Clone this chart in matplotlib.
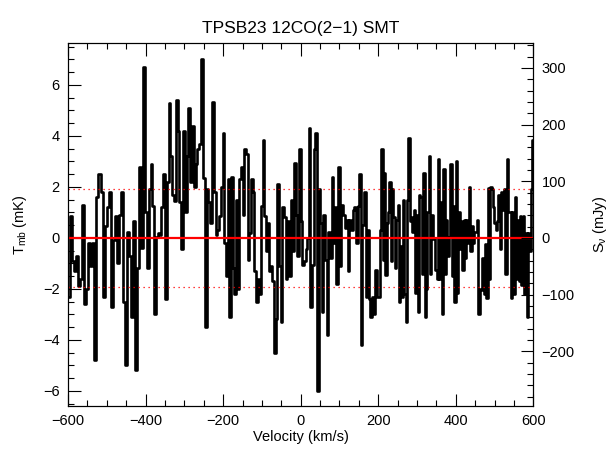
import numpy as np
import matplotlib
matplotlib.use("Agg")
from matplotlib import pyplot as plt
from matplotlib.ticker import MultipleLocator

plt.rcParams["font.family"] = ["Liberation Sans", "DejaVu Sans"]
plt.rcParams["mathtext.default"] = "regular"

# spectrum, in pieces of ~200 km/s each
seg_edges = [-600, -401, -201, 0, 201, 403, 600]
seg1 = [-2.3, 0.85, -0.9, -1.3, -0.7, -1.9, -1.6, 1.3, -2.6, -2.0, -0.2, -1.1, -0.2, -4.8, 1.6,
        2.5, 1.8, -2.3, 0.45, 1.2, 1.8, -2.7, -0.1, 0.85, -1.0, 0.9, 1.8, -2.5, -5.0, 0.25,
        -0.7, -3.1, 0.65, -5.2, -1.2, 2.8, -0.4, 6.7]
seg2 = [1.0, -1.2, 1.9, 2.9, 1.25, -3.0, 0.05, 0.2, 0.1, 1.2, 2.5, -2.4, 2.2, 5.3, 3.2,
        1.7, 1.45, 5.4, 4.2, 1.4, -0.45, 4.2, 1.0, 3.2, 5.1, 2.2, 4.4, 2.0, 2.9, 3.5,
        3.7, 7.0, 2.35, -3.5, 1.9, 1.4, 0.6, 5.35, 1.8, 0.1, 0.3, 0.85, 2.0]
seg3 = [4.1, -0.2, -1.5, 2.3, -3.1, 2.4, -1.2, -2.2, 1.5, -2.0, 2.3, 2.8, 0.9, 3.5, 3.3,
        -0.85, 0.2, 2.3, 1.8, -1.3, -2.5, -1.6, -2.2, 1.25, 3.85, 0.85, -0.5, 0.6, -1.3, -1.1,
        -1.7, -4.5, -3.2, 2.1, -1.1, -3.3, 1.2, 0.8, -1.6, 0.65, -1.5, 1.5, -0.5, 2.95, 0.9,
        -0.7, 3.5]
seg4 = [0.65, -1.05, -0.9, -0.45, 0.0, 4.3, -2.7, -1.05, 3.5, 4.1, -6.0, 1.9, 0.6, -2.9, 0.9,
        -0.85, -3.8, 0.25, -0.8, 2.4, -0.2, 1.2, -1.8, 2.8, -1.1, 1.3, 0.9, 0.4, 0.7, -1.3,
        0.7, 0.3, 1.1, 1.2, -0.2, 1.25, 2.5, -4.2, 0.5, 1.8, -2.3, 0.3, -2.4, -3.1, -2.3,
        -3.0, -1.25, -2.3]
seg5 = [-2.3, 0.3, 3.5, -0.85, 2.55, -1.45, 0.6, 1.0, 2.2, -0.9, 1.9, 0.8, -1.2, 0.7, 1.3,
        -2.5, -0.3, -2.3, 1.5, -2.2, -3.3, 1.5, 3.9, 0.65, 0.8, 0.25, 1.1, -2.15, 0.9, -2.9,
        1.7, 1.6, -1.4, 2.55, -3.1, -2.0, 1.0, 3.2, -1.4, 0.9, -0.05, 0.0, -1.25, -1.6, 3.1,
        -1.6, 1.4, -3.0, 2.7, -1.4, 0.7, -0.7, 0.05, 2.9, -1.5, 1.25, -2.5, 3.0]
seg6 = [-2.15, 1.0, -0.45, 0.65, -1.25, 0.7, -0.8, 0.7, -0.2, 2.0, -0.5, 0.45, -0.2, 0.25, 0.25,
        0.7, -3.0, -2.0, -2.05, -0.8, -2.2, -0.25, -2.35, 1.95, -1.6, 2.0, 1.9, 1.2, 0.6, 0.3,
        0.65, 1.7, -0.45, 1.8, 1.1, 1.9, -1.4, 3.1, 1.0, 1.0, -2.35, 1.0, -2.2, 1.6, -1.6,
        0.7, -1.7, 0.85, -1.85, 0.85, -2.2, 0.2, -3.1, 0.2, -0.5, 1.9, 3.85]

rms = 1.91        # mK, dotted lines
mjy_per_mk = 45.0  # right axis scale

segs = [seg1, seg2, seg3, seg4, seg5, seg6]
vel = []
for a, b, s in zip(seg_edges[:-1], seg_edges[1:], segs):
    w = (b - a) / len(s)
    vel.append(a + w / 2 + w * np.arange(len(s)))
vel = np.concatenate(vel)
tmb = np.concatenate(segs)

fig = plt.figure(figsize=(6.13, 4.61), dpi=100)
ax = fig.add_axes([0.111, 0.119, 0.759, 0.788])

ax.plot(vel, tmb, drawstyle="steps-mid", color="black", lw=1.9)
ax.axhline(0, color="red", lw=1.6)
ax.axhline(rms, color="red", lw=0.9, ls=(0, (1, 3)))
ax.axhline(-rms, color="red", lw=0.9, ls=(0, (1, 3)))

ax.set_xlim(-600, 600)
ax.set_ylim(-6.6, 7.65)
ax.xaxis.set_major_locator(MultipleLocator(200))
ax.xaxis.set_minor_locator(MultipleLocator(50))
ax.yaxis.set_major_locator(MultipleLocator(2))
ax.yaxis.set_minor_locator(MultipleLocator(0.5))
ax.tick_params(which="both", direction="in", top=True, right=False, labelsize=10.5, pad=6)
ax.tick_params(which="major", length=9, width=0.8)
ax.tick_params(which="minor", length=4.5, width=0.8)
for s in ax.spines.values():
    s.set_linewidth(0.8)

ax.set_xlabel("Velocity (km/s)", fontsize=10.5, labelpad=1)
ax.set_ylabel("T$_{mb}$ (mK)", fontsize=10.5, labelpad=10)
ax.set_title("TPSB23 12CO(2\u22121) SMT", fontsize=12.5, pad=7)

ax2 = ax.twinx()
lo, hi = ax.get_ylim()
ax2.set_ylim(lo * mjy_per_mk, hi * mjy_per_mk)
ax2.yaxis.set_major_locator(MultipleLocator(100))
ax2.yaxis.set_minor_locator(MultipleLocator(20))
ax2.tick_params(which="both", direction="in", labelsize=10.5, pad=6)
ax2.tick_params(which="major", length=9, width=0.8)
ax2.tick_params(which="minor", length=4.5, width=0.8)
ax2.set_ylabel("S$_{ν}$ (mJy)", fontsize=10.5, labelpad=12)

fig.savefig("out.png", dpi=100)
